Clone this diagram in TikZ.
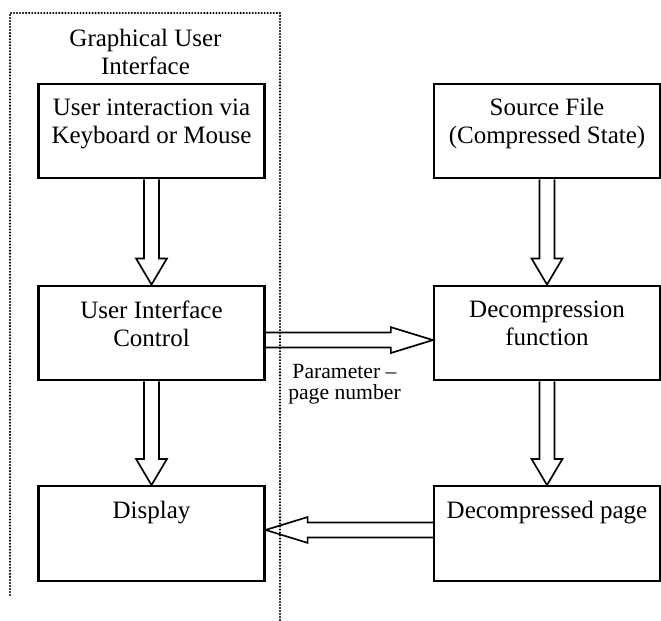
\documentclass[tikz,border=0pt]{standalone}
\usepackage{fontspec}
\setmainfont{Liberation Serif}
\usetikzlibrary{calc,positioning}

% hollow block arrow: from, to, head length, head half width
\newcommand{\hollowarrow}[4]{%
	\coordinate (hb) at ($(#2)!#3!(#1)$);
	\draw[arrowline] ($(#1)!3.6pt!90:(#2)$) -- ($(hb)!3.6pt!90:(#2)$)
		-- ($(hb)!#4!90:(#2)$) -- (#2) -- ($(hb)!#4!-90:(#2)$)
		-- ($(hb)!3.6pt!-90:(#2)$) -- ($(#1)!3.6pt!-90:(#2)$);
}

\begin{document}
\begin{tikzpicture}[x=0.48pt, y=-0.48pt,
	blk/.style={draw, line width=1pt, minimum width=108.5pt, minimum height=45.5pt,
		label={[boxtext]north:{#1}}},
	boxtext/.style={anchor=north, align=center, inner sep=7.5pt,
		font=\fontsize{12}{13.4}\selectfont},
	arrowline/.style={line width=0.8pt, line join=miter},
	frame/.style={line width=1.1pt, dash pattern=on 0pt off 1.45pt, line cap=round}
]
	\useasboundingbox (0,0) rectangle (661,621);

	% GUI frame (open at the bottom)
	\draw[frame] (10,595) -- (10,13) -- (280,13) -- (280,621);
	\node[anchor=north, inner sep=0pt, align=center,
		font=\fontsize{12}{13.4}\selectfont] (gui) at (145.5,29)
		{Graphical User\\Interface};

	% left column
	\node[blk={User interaction via\\Keyboard or Mouse}] (input) at (151.5,131) {};
	\node[blk={User Interface\\Control}] (ctrl) at (151.5,333) {};
	\node[blk={Display}] (disp) at (151.5,533.5) {};

	% right column
	\node[blk={Source File\\(Compressed State)}] (src) at (547,131) {};
	\node[blk={Decompression\\function}] (dec) at (547,333) {};
	\node[blk={Decompressed page}] (page) at (547,533.5) {};

	% vertical arrows
	\hollowarrow{input.south}{ctrl.north}{12.5pt}{7.4pt}
	\hollowarrow{ctrl.south}{disp.north}{12.5pt}{7.4pt}
	\hollowarrow{src.south}{dec.north}{12.5pt}{7.4pt}
	\hollowarrow{dec.south}{page.north}{12.5pt}{7.4pt}

	% horizontal arrows
	\coordinate (parout) at ([yshift=-3.4pt]ctrl.east);
	\coordinate (parin) at ([yshift=-3.4pt]dec.west);
	\hollowarrow{parout}{parin}{20.2pt}{6.2pt}
	\node[anchor=north, inner sep=0pt, align=center,
		font=\fontsize{10.4}{9.8}\selectfont] (param) at (344.5,364)
		{Parameter --\\page number};

	\coordinate (pgout) at ([yshift=1.7pt]page.west);
	\coordinate (pgin) at ([yshift=1.7pt]disp.east);
	\hollowarrow{pgout}{pgin}{20.2pt}{6.2pt}
\end{tikzpicture}
\end{document}
